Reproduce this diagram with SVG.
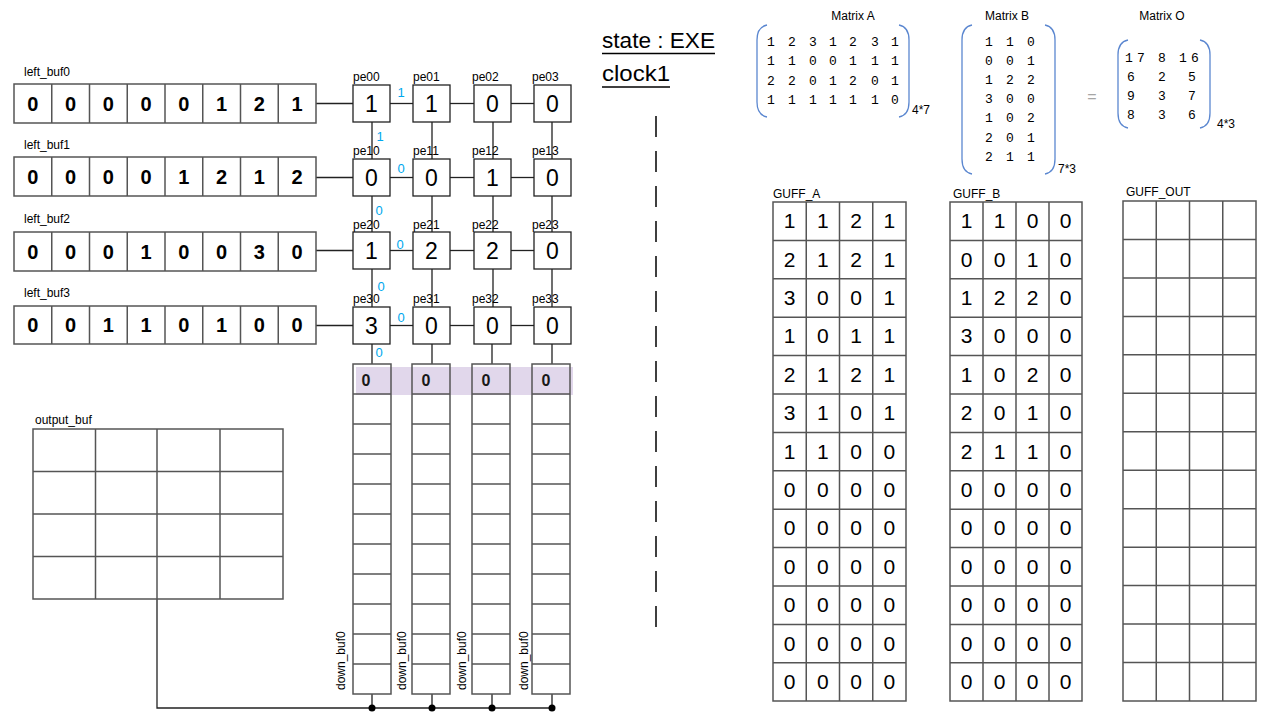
<svg xmlns="http://www.w3.org/2000/svg" width="1280" height="720" viewBox="0 0 1280 720">
<style>
.lbl{font-family:"Liberation Sans",Arial,sans-serif;font-size:12px;fill:#000}
.bufd{font-family:"Liberation Sans",Arial,sans-serif;font-size:20px;font-weight:bold;fill:#000;text-anchor:middle}
.ped{font-family:"Liberation Sans",Arial,sans-serif;font-size:23px;fill:#000;text-anchor:middle}
.blue{font-family:"Liberation Sans",Arial,sans-serif;font-size:13px;fill:#00A8EE;text-anchor:middle}
.gd{font-family:"Liberation Sans",Arial,sans-serif;font-size:21px;fill:#000;text-anchor:middle}
.md{font-family:"Liberation Mono","DejaVu Sans Mono",monospace;font-size:13px;fill:#000;text-anchor:middle}
.box{fill:#fff;stroke:#222;stroke-width:1.3}
.grid{fill:none;stroke:#555;stroke-width:1.5}
.gl{stroke:#555;stroke-width:1.5}
.conn{stroke:#222;stroke-width:1.3;fill:none}
.paren{fill:none;stroke:#5B87D0;stroke-width:1.3}
.big{font-family:"Liberation Sans",Arial,sans-serif;font-size:22px;fill:#000}
</style>

<!-- connectors -->
<g id="connectors">
  <line class="conn" x1="316" y1="103.5" x2="353" y2="103.5"/>
  <line class="conn" x1="316" y1="177.5" x2="353" y2="177.5"/>
  <line class="conn" x1="316" y1="250.5" x2="353" y2="250.5"/>
  <line class="conn" x1="316" y1="325.5" x2="353" y2="325.5"/>
  <line class="conn" x1="390" y1="103.5" x2="413" y2="103.5"/>
  <line class="conn" x1="450" y1="103.5" x2="474" y2="103.5"/>
  <line class="conn" x1="511" y1="103.5" x2="534" y2="103.5"/>
  <line class="conn" x1="390" y1="177.5" x2="413" y2="177.5"/>
  <line class="conn" x1="450" y1="177.5" x2="474" y2="177.5"/>
  <line class="conn" x1="511" y1="177.5" x2="534" y2="177.5"/>
  <line class="conn" x1="390" y1="250.5" x2="413" y2="250.5"/>
  <line class="conn" x1="450" y1="250.5" x2="474" y2="250.5"/>
  <line class="conn" x1="511" y1="250.5" x2="534" y2="250.5"/>
  <line class="conn" x1="390" y1="325.5" x2="413" y2="325.5"/>
  <line class="conn" x1="450" y1="325.5" x2="474" y2="325.5"/>
  <line class="conn" x1="511" y1="325.5" x2="534" y2="325.5"/>
  <!-- vertical -->
  <path class="conn" d="M372 122V159M432 122V159M493 122V159M552 122V159"/>
  <path class="conn" d="M372 196V232M432 196V232M493 196V232M552 196V232"/>
  <path class="conn" d="M372 269V307M432 269V307M493 269V307M552 269V307"/>
  <path class="conn" d="M372 344V364M432 344V364M492 344V364M552 344V364"/>
  <!-- bottom bus -->
  <path class="conn" d="M372 694V708M432 694V708M492 694V708M552 694V708"/>
  <path class="conn" d="M157 599V708H552"/>
  <circle cx="372" cy="708" r="3.5" fill="#000"/>
  <circle cx="432" cy="708" r="3.5" fill="#000"/>
  <circle cx="492" cy="708" r="3.5" fill="#000"/>
  <circle cx="552" cy="708" r="3.5" fill="#000"/>
  <!-- blue values -->
  <text class="blue" x="401" y="97">1</text>
  <text class="blue" x="380" y="141">1</text>
  <text class="blue" x="401" y="173">0</text>
  <text class="blue" x="379" y="215">0</text>
  <text class="blue" x="400" y="249">0</text>
  <text class="blue" x="381" y="291">0</text>
  <text class="blue" x="401" y="322">0</text>
  <text class="blue" x="379" y="357">0</text>
</g>

<!-- left buffers -->
<g id="left_buf0">
  <text class="lbl" x="24" y="76">left_buf0</text>
  <rect class="grid" x="14" y="84" width="302" height="39"/>
  <path class="gl" d="M51.75 84V123M89.5 84V123M127.25 84V123M165 84V123M202.75 84V123M240.5 84V123M278.25 84V123"/>
  <text class="bufd" x="32.9" y="110.5">0</text><text class="bufd" x="70.6" y="110.5">0</text><text class="bufd" x="108.4" y="110.5">0</text><text class="bufd" x="146.1" y="110.5">0</text><text class="bufd" x="183.9" y="110.5">0</text><text class="bufd" x="221.6" y="110.5">1</text><text class="bufd" x="259.4" y="110.5">2</text><text class="bufd" x="297.1" y="110.5">1</text>
</g>
<g id="left_buf1">
  <text class="lbl" x="24" y="149">left_buf1</text>
  <rect class="grid" x="14" y="157" width="302" height="39"/>
  <path class="gl" d="M51.75 157V196M89.5 157V196M127.25 157V196M165 157V196M202.75 157V196M240.5 157V196M278.25 157V196"/>
  <text class="bufd" x="32.9" y="183.5">0</text><text class="bufd" x="70.6" y="183.5">0</text><text class="bufd" x="108.4" y="183.5">0</text><text class="bufd" x="146.1" y="183.5">0</text><text class="bufd" x="183.9" y="183.5">1</text><text class="bufd" x="221.6" y="183.5">2</text><text class="bufd" x="259.4" y="183.5">1</text><text class="bufd" x="297.1" y="183.5">2</text>
</g>
<g id="left_buf2">
  <text class="lbl" x="24" y="223">left_buf2</text>
  <rect class="grid" x="14" y="232" width="302" height="39"/>
  <path class="gl" d="M51.75 232V271M89.5 232V271M127.25 232V271M165 232V271M202.75 232V271M240.5 232V271M278.25 232V271"/>
  <text class="bufd" x="32.9" y="258.5">0</text><text class="bufd" x="70.6" y="258.5">0</text><text class="bufd" x="108.4" y="258.5">0</text><text class="bufd" x="146.1" y="258.5">1</text><text class="bufd" x="183.9" y="258.5">0</text><text class="bufd" x="221.6" y="258.5">0</text><text class="bufd" x="259.4" y="258.5">3</text><text class="bufd" x="297.1" y="258.5">0</text>
</g>
<g id="left_buf3">
  <text class="lbl" x="24" y="297">left_buf3</text>
  <rect class="grid" x="14" y="306" width="302" height="38"/>
  <path class="gl" d="M51.75 306V344M89.5 306V344M127.25 306V344M165 306V344M202.75 306V344M240.5 306V344M278.25 306V344"/>
  <text class="bufd" x="32.9" y="332">0</text><text class="bufd" x="70.6" y="332">0</text><text class="bufd" x="108.4" y="332">1</text><text class="bufd" x="146.1" y="332">1</text><text class="bufd" x="183.9" y="332">0</text><text class="bufd" x="221.6" y="332">1</text><text class="bufd" x="259.4" y="332">0</text><text class="bufd" x="297.1" y="332">0</text>
</g>

<!-- PEs -->
<g id="pe00"><text class="lbl" x="353" y="81">pe00</text><rect class="box" x="353" y="85" width="37" height="37"/><text class="ped" x="371.5" y="111.5">1</text></g>
<g id="pe01"><text class="lbl" x="413" y="81">pe01</text><rect class="box" x="413" y="85" width="37" height="37"/><text class="ped" x="431.5" y="111.5">1</text></g>
<g id="pe02"><text class="lbl" x="472" y="81">pe02</text><rect class="box" x="474" y="85" width="37" height="37"/><text class="ped" x="492.5" y="111.5">0</text></g>
<g id="pe03"><text class="lbl" x="532" y="81">pe03</text><rect class="box" x="534" y="85" width="37" height="37"/><text class="ped" x="552.5" y="111.5">0</text></g>

<g id="pe10"><text class="lbl" x="353" y="155">pe10</text><rect class="box" x="353" y="159" width="37" height="37"/><text class="ped" x="371.5" y="185.5">0</text></g>
<g id="pe11"><text class="lbl" x="413" y="155">pe11</text><rect class="box" x="413" y="159" width="37" height="37"/><text class="ped" x="431.5" y="185.5">0</text></g>
<g id="pe12"><text class="lbl" x="472" y="155">pe12</text><rect class="box" x="474" y="159" width="37" height="37"/><text class="ped" x="492.5" y="185.5">1</text></g>
<g id="pe13"><text class="lbl" x="532" y="155">pe13</text><rect class="box" x="534" y="159" width="37" height="37"/><text class="ped" x="552.5" y="185.5">0</text></g>

<g id="pe20"><text class="lbl" x="353" y="229">pe20</text><rect class="box" x="353" y="232" width="37" height="37"/><text class="ped" x="371.5" y="258.5">1</text></g>
<g id="pe21"><text class="lbl" x="413" y="229">pe21</text><rect class="box" x="413" y="232" width="37" height="37"/><text class="ped" x="431.5" y="258.5">2</text></g>
<g id="pe22"><text class="lbl" x="472" y="229">pe22</text><rect class="box" x="474" y="232" width="37" height="37"/><text class="ped" x="492.5" y="258.5">2</text></g>
<g id="pe23"><text class="lbl" x="532" y="229">pe23</text><rect class="box" x="534" y="232" width="37" height="37"/><text class="ped" x="552.5" y="258.5">0</text></g>

<g id="pe30"><text class="lbl" x="353" y="303">pe30</text><rect class="box" x="353" y="307" width="37" height="37"/><text class="ped" x="371.5" y="333.5">3</text></g>
<g id="pe31"><text class="lbl" x="413" y="303">pe31</text><rect class="box" x="413" y="307" width="37" height="37"/><text class="ped" x="431.5" y="333.5">0</text></g>
<g id="pe32"><text class="lbl" x="472" y="303">pe32</text><rect class="box" x="474" y="307" width="37" height="37"/><text class="ped" x="492.5" y="333.5">0</text></g>
<g id="pe33"><text class="lbl" x="532" y="303">pe33</text><rect class="box" x="534" y="307" width="37" height="37"/><text class="ped" x="552.5" y="333.5">0</text></g>

<!-- down buffers -->
<g id="down_bufs">
  <rect x="356" y="367" width="217" height="28" fill="#E1D7EB"/>
  <g class="grid">
    <rect x="353" y="364" width="38" height="330"/>
    <rect x="412" y="364" width="38" height="330"/>
    <rect x="472" y="364" width="38" height="330"/>
    <rect x="532" y="364" width="38" height="330"/>
  </g>
  <path class="gl" d="M353 394H391M353 424H391M353 454H391M353 484H391M353 514H391M353 544H391M353 574H391M353 604H391M353 634H391M353 664H391"/>
  <path class="gl" d="M412 394H450M412 424H450M412 454H450M412 484H450M412 514H450M412 544H450M412 574H450M412 604H450M412 634H450M412 664H450"/>
  <path class="gl" d="M472 394H510M472 424H510M472 454H510M472 484H510M472 514H510M472 544H510M472 574H510M472 604H510M472 634H510M472 664H510"/>
  <path class="gl" d="M532 394H570M532 424H570M532 454H570M532 484H570M532 514H570M532 544H570M532 574H570M532 604H570M532 634H570M532 664H570"/>
  <g font-family="Liberation Sans, Arial, sans-serif" font-size="16" font-weight="bold" text-anchor="middle" fill="#1a1a1a">
    <text x="366" y="386">0</text><text x="426" y="386">0</text><text x="486" y="386">0</text><text x="546" y="386">0</text>
  </g>
  <text class="lbl" font-size="12.5" transform="translate(345 690) rotate(-90)">down_buf0</text>
  <text class="lbl" font-size="12.5" transform="translate(406 690) rotate(-90)">down_buf0</text>
  <text class="lbl" font-size="12.5" transform="translate(466 690) rotate(-90)">down_buf0</text>
  <text class="lbl" font-size="12.5" transform="translate(528 690) rotate(-90)">down_buf0</text>
</g>

<!-- output buf -->
<g id="output_buf">
  <text class="lbl" x="35" y="424">output_buf</text>
  <rect class="grid" x="33" y="429" width="250" height="170"/>
  <path class="gl" d="M95.5 429V599M157 429V599M220 429V599M33 471.5H283M33 514H283M33 556.5H283"/>
</g>

<!-- state -->
<g id="state">
  <text class="big" x="602" y="48" textLength="113" lengthAdjust="spacingAndGlyphs">state : EXE</text>
  <line x1="602" y1="53.5" x2="715" y2="53.5" stroke="#000" stroke-width="1.5"/>
  <text class="big" x="602" y="81" textLength="68" lengthAdjust="spacingAndGlyphs">clock1</text>
  <line x1="602" y1="87" x2="670" y2="87" stroke="#000" stroke-width="1.5"/>
</g>
<line id="divider" x1="656" y1="116" x2="656" y2="636" stroke="#000" stroke-width="1.5" stroke-dasharray="21 14"/>

<!-- Matrix A -->
<g id="matrixA">
  <text class="lbl" x="853" y="20" text-anchor="middle">Matrix A</text>
  <path class="paren" d="M767 25Q757 27 757 40V102Q757 115 767 117"/>
  <path class="paren" d="M899 25Q909 27 909 40V102Q909 115 899 117"/>
  <g class="md">
    <text x="771" y="46">1</text><text x="792" y="46">2</text><text x="813" y="46">3</text><text x="833" y="46">1</text><text x="853" y="46">2</text><text x="875" y="46">3</text><text x="895" y="46">1</text>
    <text x="771" y="65">1</text><text x="792" y="65">1</text><text x="813" y="65">0</text><text x="833" y="65">0</text><text x="853" y="65">1</text><text x="875" y="65">1</text><text x="895" y="65">1</text>
    <text x="771" y="85">2</text><text x="792" y="85">2</text><text x="813" y="85">0</text><text x="833" y="85">1</text><text x="853" y="85">2</text><text x="875" y="85">0</text><text x="895" y="85">1</text>
    <text x="771" y="104">1</text><text x="792" y="104">1</text><text x="813" y="104">1</text><text x="833" y="104">1</text><text x="853" y="104">1</text><text x="875" y="104">1</text><text x="895" y="104">0</text>
  </g>
  <text class="lbl" x="912" y="114">4*7</text>
</g>

<!-- Matrix B -->
<g id="matrixB">
  <text class="lbl" x="1007" y="20" text-anchor="middle">Matrix B</text>
  <path class="paren" d="M972 25Q962 27 962 40V159Q962 172 972 174"/>
  <path class="paren" d="M1045 25Q1055 27 1055 40V159Q1055 172 1045 174"/>
  <g class="md">
    <text x="989" y="46">1</text><text x="1010" y="46">1</text><text x="1031" y="46">0</text>
    <text x="989" y="65">0</text><text x="1010" y="65">0</text><text x="1031" y="65">1</text>
    <text x="989" y="84">1</text><text x="1010" y="84">2</text><text x="1031" y="84">2</text>
    <text x="989" y="103">3</text><text x="1010" y="103">0</text><text x="1031" y="103">0</text>
    <text x="989" y="122">1</text><text x="1010" y="122">0</text><text x="1031" y="122">2</text>
    <text x="989" y="142">2</text><text x="1010" y="142">0</text><text x="1031" y="142">1</text>
    <text x="989" y="161">2</text><text x="1010" y="161">1</text><text x="1031" y="161">1</text>
  </g>
  <text class="lbl" x="1058" y="173">7*3</text>
</g>

<text x="1092" y="102" font-family="Liberation Sans, Arial, sans-serif" font-size="16" fill="#A6A6A6" text-anchor="middle">=</text>

<!-- Matrix O -->
<g id="matrixO">
  <text class="lbl" x="1162" y="20" text-anchor="middle">Matrix O</text>
  <path class="paren" d="M1128 40Q1118 42 1118 55V113Q1118 126 1128 128"/>
  <path class="paren" d="M1200 40Q1210 42 1210 55V113Q1210 126 1200 128"/>
  <g class="md">
    <text x="1129" y="62">1</text><text x="1141" y="62">7</text><text x="1162" y="62">8</text><text x="1183" y="62">1</text><text x="1195" y="62">6</text>
    <text x="1131" y="81">6</text><text x="1162" y="81">2</text><text x="1192" y="81">5</text>
    <text x="1131" y="100">9</text><text x="1162" y="100">3</text><text x="1192" y="100">7</text>
    <text x="1131" y="119">8</text><text x="1162" y="119">3</text><text x="1192" y="119">6</text>
  </g>
  <text class="lbl" x="1217" y="128">4*3</text>
</g>

<!-- GUFF_A -->
<g id="guff_a">
  <text class="lbl" x="773" y="198">GUFF_A</text>
  <rect class="grid" x="773" y="202" width="133" height="499"/>
  <path class="gl" d="M806.25 202V701M839.5 202V701M872.75 202V701"/>
  <path class="gl" d="M773 240.4H906M773 278.8H906M773 317.2H906M773 355.6H906M773 394H906M773 432.4H906M773 470.8H906M773 509.2H906M773 547.6H906M773 586H906M773 624.4H906M773 662.8H906"/>
  <g class="gd">
    <text x="789.6" y="228.2">1</text><text x="822.9" y="228.2">1</text><text x="856.1" y="228.2">2</text><text x="889.4" y="228.2">1</text>
    <text x="789.6" y="266.6">2</text><text x="822.9" y="266.6">1</text><text x="856.1" y="266.6">2</text><text x="889.4" y="266.6">1</text>
    <text x="789.6" y="305">3</text><text x="822.9" y="305">0</text><text x="856.1" y="305">0</text><text x="889.4" y="305">1</text>
    <text x="789.6" y="343.4">1</text><text x="822.9" y="343.4">0</text><text x="856.1" y="343.4">1</text><text x="889.4" y="343.4">1</text>
    <text x="789.6" y="381.8">2</text><text x="822.9" y="381.8">1</text><text x="856.1" y="381.8">2</text><text x="889.4" y="381.8">1</text>
    <text x="789.6" y="420.2">3</text><text x="822.9" y="420.2">1</text><text x="856.1" y="420.2">0</text><text x="889.4" y="420.2">1</text>
    <text x="789.6" y="458.6">1</text><text x="822.9" y="458.6">1</text><text x="856.1" y="458.6">0</text><text x="889.4" y="458.6">0</text>
    <text x="789.6" y="497">0</text><text x="822.9" y="497">0</text><text x="856.1" y="497">0</text><text x="889.4" y="497">0</text>
    <text x="789.6" y="535.4">0</text><text x="822.9" y="535.4">0</text><text x="856.1" y="535.4">0</text><text x="889.4" y="535.4">0</text>
    <text x="789.6" y="573.8">0</text><text x="822.9" y="573.8">0</text><text x="856.1" y="573.8">0</text><text x="889.4" y="573.8">0</text>
    <text x="789.6" y="612.2">0</text><text x="822.9" y="612.2">0</text><text x="856.1" y="612.2">0</text><text x="889.4" y="612.2">0</text>
    <text x="789.6" y="650.6">0</text><text x="822.9" y="650.6">0</text><text x="856.1" y="650.6">0</text><text x="889.4" y="650.6">0</text>
    <text x="789.6" y="689">0</text><text x="822.9" y="689">0</text><text x="856.1" y="689">0</text><text x="889.4" y="689">0</text>
  </g>
</g>

<!-- GUFF_B -->
<g id="guff_b">
  <text class="lbl" x="953" y="198">GUFF_B</text>
  <rect class="grid" x="950" y="202" width="132" height="499"/>
  <path class="gl" d="M983 202V701M1016 202V701M1049 202V701"/>
  <path class="gl" d="M950 240.4H1082M950 278.8H1082M950 317.2H1082M950 355.6H1082M950 394H1082M950 432.4H1082M950 470.8H1082M950 509.2H1082M950 547.6H1082M950 586H1082M950 624.4H1082M950 662.8H1082"/>
  <g class="gd">
    <text x="966.5" y="228.2">1</text><text x="999.5" y="228.2">1</text><text x="1032.5" y="228.2">0</text><text x="1065.5" y="228.2">0</text>
    <text x="966.5" y="266.6">0</text><text x="999.5" y="266.6">0</text><text x="1032.5" y="266.6">1</text><text x="1065.5" y="266.6">0</text>
    <text x="966.5" y="305">1</text><text x="999.5" y="305">2</text><text x="1032.5" y="305">2</text><text x="1065.5" y="305">0</text>
    <text x="966.5" y="343.4">3</text><text x="999.5" y="343.4">0</text><text x="1032.5" y="343.4">0</text><text x="1065.5" y="343.4">0</text>
    <text x="966.5" y="381.8">1</text><text x="999.5" y="381.8">0</text><text x="1032.5" y="381.8">2</text><text x="1065.5" y="381.8">0</text>
    <text x="966.5" y="420.2">2</text><text x="999.5" y="420.2">0</text><text x="1032.5" y="420.2">1</text><text x="1065.5" y="420.2">0</text>
    <text x="966.5" y="458.6">2</text><text x="999.5" y="458.6">1</text><text x="1032.5" y="458.6">1</text><text x="1065.5" y="458.6">0</text>
    <text x="966.5" y="497">0</text><text x="999.5" y="497">0</text><text x="1032.5" y="497">0</text><text x="1065.5" y="497">0</text>
    <text x="966.5" y="535.4">0</text><text x="999.5" y="535.4">0</text><text x="1032.5" y="535.4">0</text><text x="1065.5" y="535.4">0</text>
    <text x="966.5" y="573.8">0</text><text x="999.5" y="573.8">0</text><text x="1032.5" y="573.8">0</text><text x="1065.5" y="573.8">0</text>
    <text x="966.5" y="612.2">0</text><text x="999.5" y="612.2">0</text><text x="1032.5" y="612.2">0</text><text x="1065.5" y="612.2">0</text>
    <text x="966.5" y="650.6">0</text><text x="999.5" y="650.6">0</text><text x="1032.5" y="650.6">0</text><text x="1065.5" y="650.6">0</text>
    <text x="966.5" y="689">0</text><text x="999.5" y="689">0</text><text x="1032.5" y="689">0</text><text x="1065.5" y="689">0</text>
  </g>
</g>

<!-- GUFF_OUT -->
<g id="guff_out">
  <text class="lbl" x="1126" y="196">GUFF_OUT</text>
  <rect class="grid" x="1123" y="201" width="133" height="500"/>
  <path class="gl" d="M1156.25 201V701M1189.5 201V701M1222.75 201V701"/>
  <path class="gl" d="M1123 239.5H1256M1123 277.9H1256M1123 316.4H1256M1123 354.8H1256M1123 393.3H1256M1123 431.8H1256M1123 470.2H1256M1123 508.7H1256M1123 547.2H1256M1123 585.6H1256M1123 624.1H1256M1123 662.5H1256"/>
</g>
</svg>
